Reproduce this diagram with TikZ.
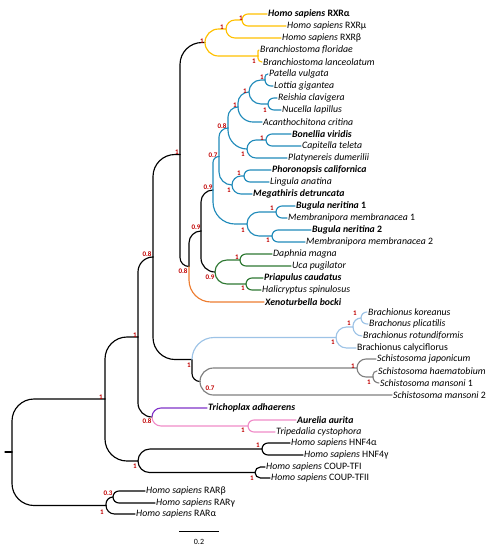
\documentclass[tikz,border=0pt]{standalone}
\usepackage{fontspec}
\setmainfont{Carlito}
\usetikzlibrary{calc}
\definecolor{yellowc}{RGB}{255,192,0}
\definecolor{bluec}{RGB}{33,139,186}
\definecolor{greenc}{RGB}{46,120,50}
\definecolor{orangec}{RGB}{237,125,49}
\definecolor{lbluec}{RGB}{157,195,230}
\definecolor{grayc}{RGB}{128,128,128}
\definecolor{purplec}{RGB}{128,50,200}
\definecolor{pinkc}{RGB}{240,140,200}
\definecolor{redlab}{RGB}{192,0,0}
\def\rmax{22}
\newcommand\tbranch[3][]{%
  \draw[branch,#1] let \p1=(#2), \p2=(#3),
     \n1={min(\rmax, abs(\y2-\y1), \x2-\x1)},
     \n2={sign(\y2-\y1)} in
     (\p1) -- (\x1,{\y2-\n2*\n1}) .. controls (\x1,{\y2-0.448*\n2*\n1}) and ({\x1+0.448*\n1},\y2) .. ({\x1+\n1},\y2) -- (\p2);}
\begin{document}
\begin{tikzpicture}[x=1pt,y=-1pt,
  branch/.style={line width=1.15pt, line cap=round},
  leaf/.style={anchor=west, inner sep=1pt, font=\fontsize{9.8}{11}\selectfont\itshape},
  sup/.style={inner sep=0pt, text=redlab, font=\fontsize{7}{8}\selectfont\bfseries},
  yb/.style={draw=yellowc}, bb/.style={draw=bluec}, gb/.style={draw=greenc},
  ob/.style={draw=orangec}, lb/.style={draw=lbluec}, rb/.style={draw=grayc},
  pb/.style={draw=purplec}, kb/.style={draw=pinkc}]
\useasboundingbox (0,0) rectangle (491,550);
% internal nodes
\coordinate (r0) at (5,452);
\coordinate (root) at (12,452);
\coordinate (A) at (105,399);
\coordinate (B) at (138,337);
\coordinate (C) at (138,461);
\coordinate (D) at (153,257);
\coordinate (E) at (152,417);
\coordinate (G) at (180,154.5);
\coordinate (H) at (192,359.5);
\coordinate (F) at (189,266.5);
\coordinate (I) at (201,231);
\coordinate (J) at (213,190);
\coordinate (K) at (215,272);
\coordinate (Nc) at (205,42.5);
\coordinate (Nr2) at (226,29);
\coordinate (Nr1) at (242,20);
\coordinate (NB) at (258,56);
\coordinate (L) at (219,156.5);
\coordinate (LA) at (228,128);
\coordinate (M4) at (238,107);
\coordinate (M3) at (249,92);
\coordinate (M1) at (265,80);
\coordinate (M2) at (268,104);
\coordinate (A2) at (247,149);
\coordinate (A1) at (266,140);
\coordinate (B2) at (232,185);
\coordinate (B1) at (244,176);
\coordinate (Z) at (247,224);
\coordinate (Z1) at (276,212);
\coordinate (Z2) at (272,236);
\coordinate (E1) at (240,260);
\coordinate (E2) at (246,284);
\coordinate (R1) at (336,337.5);
\coordinate (R2) at (353,327);
\coordinate (R3) at (361,318);
\coordinate (P) at (200,381.5);
\coordinate (S1) at (357,368);
\coordinate (S2) at (373,377);
\coordinate (Cn) at (248,426);
\coordinate (HN) at (262,449);
\coordinate (CO) at (255,472.5);
\coordinate (RA) at (106,505.5);
\coordinate (Rbg) at (113,497);
% leaves
\node[leaf] (l1) at (267,14) {\textbf{Homo sapiens \textup{RXRα}}};
\node[leaf] (l2) at (286,26) {Homo sapiens \textup{RXRμ}};
\node[leaf] (l3) at (281,38) {Homo sapiens \textup{RXRβ}};
\node[leaf] (l4) at (259,50) {Branchiostoma floridae};
\node[leaf] (l5) at (262,62) {Branchiostoma lanceolatum};
\node[leaf] (l6) at (268,74) {Patella vulgata};
\node[leaf] (l7) at (273,86) {Lottia gigantea};
\node[leaf] (l8) at (277,98) {Reishia clavigera};
\node[leaf] (l9) at (281,110) {Nucella lapillus};
\node[leaf] (l10) at (262,122) {Acanthochitona critina};
\node[leaf] (l11) at (291,134) {\textbf{Bonellia viridis}};
\node[leaf] (l12) at (301,146) {Capitella teleta};
\node[leaf] (l13) at (287,158) {Platynereis dumerilii};
\node[leaf] (l14) at (271,170) {\textbf{Phoronopsis californica}};
\node[leaf] (l15) at (269,182) {Lingula anatina};
\node[leaf] (l16) at (252,194) {\textbf{Megathiris detruncata}};
\node[leaf] (l17) at (295,206) {\textbf{Bugula neritina \textup{1}}};
\node[leaf] (l18) at (287,218) {Membranipora membranacea \textup{1}};
\node[leaf] (l19) at (311,230) {\textbf{Bugula neritina \textup{2}}};
\node[leaf] (l20) at (305,242) {Membranipora membranacea \textup{2}};
\node[leaf] (l21) at (272,254) {Daphnia magna};
\node[leaf] (l22) at (291,266) {Uca pugilator};
\node[leaf] (l23) at (263,278) {\textbf{Priapulus caudatus}};
\node[leaf] (l24) at (261,290) {Halicryptus spinulosus};
\node[leaf] (l25) at (264,302) {\textbf{Xenoturbella bocki}};
\node[leaf] (l26) at (367,312) {Brachionus koreanus};
\node[leaf] (l27) at (368,324) {Brachonus plicatilis};
\node[leaf] (l28) at (362,336) {Brachionus rotundiformis};
\node[leaf] (l29) at (356,348) {\textup{Brachionus calyciflorus}};
\node[leaf] (l30) at (376,359) {Schistosoma japonicum};
\node[leaf] (l31) at (377,371) {Schistosoma haematobium};
\node[leaf] (l32) at (379,383) {Schistosoma mansoni \textup{1}};
\node[leaf] (l33) at (392,395) {Schistosoma mansoni \textup{2}};
\node[leaf] (l34) at (207,408) {\textbf{Trichoplax adhaerens}};
\node[leaf] (l35) at (296,420) {\textbf{Aurelia aurita}};
\node[leaf] (l36) at (275,432) {Tripedalia cystophora};
\node[leaf] (l37) at (290,443) {Homo sapiens \textup{HNF4α}};
\node[leaf] (l38) at (303,455) {Homo sapiens \textup{HNF4γ}};
\node[leaf] (l39) at (265,467) {Homo sapiens \textup{COUP-TFI}};
\node[leaf] (l40) at (270,478) {Homo sapiens \textup{COUP-TFII}};
\node[leaf] (l41) at (145,491) {Homo sapiens \textup{RARβ}};
\node[leaf] (l42) at (155,503) {Homo sapiens \textup{RARγ}};
\node[leaf] (l43) at (135,514) {Homo sapiens \textup{RARα}};
% black branches
\draw[branch] (r0) -- (root);
\tbranch{root}{A} \tbranch{root}{RA}
\tbranch{A}{B} \tbranch{A}{C}
\tbranch{B}{D} \tbranch{B}{E}
\tbranch{D}{G} \tbranch{D}{H}
\tbranch{G}{Nc} \tbranch{G}{F}
\tbranch{F}{I} \tbranch{I}{J} \tbranch{I}{K}
\tbranch{H}{P}
\tbranch{C}{HN} \tbranch{C}{CO}
\tbranch{HN}{l37.west} \tbranch{HN}{l38.west}
\tbranch{CO}{l39.west} \tbranch{CO}{l40.west}
\tbranch{RA}{Rbg} \tbranch{RA}{l43.west}
\tbranch{Rbg}{l41.west} \tbranch{Rbg}{l42.west}
% chordates
\tbranch[yb]{Nc}{Nr2} \tbranch[yb]{Nc}{NB}
\tbranch[yb]{Nr2}{Nr1} \tbranch[yb]{Nr2}{l3.west}
\tbranch[yb]{Nr1}{l1.west} \tbranch[yb]{Nr1}{l2.west}
\tbranch[yb]{NB}{l4.west} \tbranch[yb]{NB}{l5.west}
% xenoturbella
\tbranch[ob]{F}{l25.west}
% lophotrochozoa
\tbranch[bb]{J}{L} \tbranch[bb]{J}{Z}
\tbranch[bb]{L}{LA} \tbranch[bb]{L}{B2}
\tbranch[bb]{LA}{M4} \tbranch[bb]{LA}{A2}
\tbranch[bb]{M4}{M3} \tbranch[bb]{M4}{l10.west}
\tbranch[bb]{M3}{M1} \tbranch[bb]{M3}{M2}
\tbranch[bb]{M1}{l6.west} \tbranch[bb]{M1}{l7.west}
\tbranch[bb]{M2}{l8.west} \tbranch[bb]{M2}{l9.west}
\tbranch[bb]{A2}{A1} \tbranch[bb]{A2}{l13.west}
\tbranch[bb]{A1}{l11.west} \tbranch[bb]{A1}{l12.west}
\tbranch[bb]{B2}{B1} \tbranch[bb]{B2}{l16.west}
\tbranch[bb]{B1}{l14.west} \tbranch[bb]{B1}{l15.west}
\tbranch[bb]{Z}{Z1} \tbranch[bb]{Z}{Z2}
\tbranch[bb]{Z1}{l17.west} \tbranch[bb]{Z1}{l18.west}
\tbranch[bb]{Z2}{l19.west} \tbranch[bb]{Z2}{l20.west}
% ecdysozoa
\tbranch[gb]{K}{E1} \tbranch[gb]{K}{E2}
\tbranch[gb]{E1}{l21.west} \tbranch[gb]{E1}{l22.west}
\tbranch[gb]{E2}{l23.west} \tbranch[gb]{E2}{l24.west}
% rotifers
\tbranch[lb]{H}{R1}
\tbranch[lb]{R1}{R2} \tbranch[lb]{R1}{l29.west}
\tbranch[lb]{R2}{R3} \tbranch[lb]{R2}{l28.west}
\tbranch[lb]{R3}{l26.west} \tbranch[lb]{R3}{l27.west}
% platyhelminthes
\tbranch[rb]{P}{S1} \tbranch[rb]{P}{l33.west}
\tbranch[rb]{S1}{l30.west} \tbranch[rb]{S1}{S2}
\tbranch[rb]{S2}{l31.west} \tbranch[rb]{S2}{l32.west}
% placozoa and cnidaria
\tbranch[pb]{E}{l34.west}
\tbranch[kb]{E}{Cn}
\tbranch[kb]{Cn}{l35.west} \tbranch[kb]{Cn}{l36.west}
% support values
\node[sup] (s1) at (241,18) {1};
\node[sup] (s2) at (222,27) {1};
\node[sup] (s3) at (202,41) {1};
\node[sup] (s4) at (254,61) {1};
\node[sup] (s5) at (262,77) {1};
\node[sup] (s6) at (245,91) {1};
\node[sup] (s7) at (265,110) {1};
\node[sup] (s8) at (235,105) {1};
\node[sup] (s9) at (222,126) {0.8};
\node[sup] (s10) at (262,138) {1};
\node[sup] (s11) at (243,154) {1};
\node[sup] (s12) at (213,155) {0.7};
\node[sup] (s13) at (239,173) {1};
\node[sup] (s14) at (229,190) {1};
\node[sup] (s15) at (208,187) {0.9};
\node[sup] (s16) at (272,208) {1};
\node[sup] (s17) at (243,230) {1};
\node[sup] (s18) at (268,240) {1};
\node[sup] (s19) at (237,257) {1};
\node[sup] (s20) at (243,288) {1};
\node[sup] (s21) at (210,277) {0.9};
\node[sup] (s22) at (196,227) {0.9};
\node[sup] (s23) at (183,271) {0.8};
\node[sup] (s24) at (177,152) {1};
\node[sup] (s25) at (147,254) {0.8};
\node[sup] (s26) at (355,313) {1};
\node[sup] (s27) at (349,323) {1};
\node[sup] (s28) at (333,342) {1};
\node[sup] (s29) at (353,366) {1};
\node[sup] (s30) at (369,382) {1};
\node[sup] (s31) at (210,388) {0.7};
\node[sup] (s32) at (189,365) {1};
\node[sup] (s33) at (135,335) {1};
\node[sup] (s34) at (101,397) {1};
\node[sup] (s35) at (147,421) {0.8};
\node[sup] (s36) at (243,430) {1};
\node[sup] (s37) at (258,445) {1};
\node[sup] (s38) at (135,466) {1};
\node[sup] (s39) at (252,478) {1};
\node[sup] (s40) at (108,493) {0.3};
\node[sup] (s41) at (102,512) {1};
% scale bar
\coordinate (sb1) at (179,531);
\coordinate (sb2) at (219,531);
\draw[line width=1pt] (sb1) -- (sb2);
\node[inner sep=0pt, font=\fontsize{8}{9}\selectfont] (sbl) at (199,542) {0.2};
\end{tikzpicture}
\end{document}
